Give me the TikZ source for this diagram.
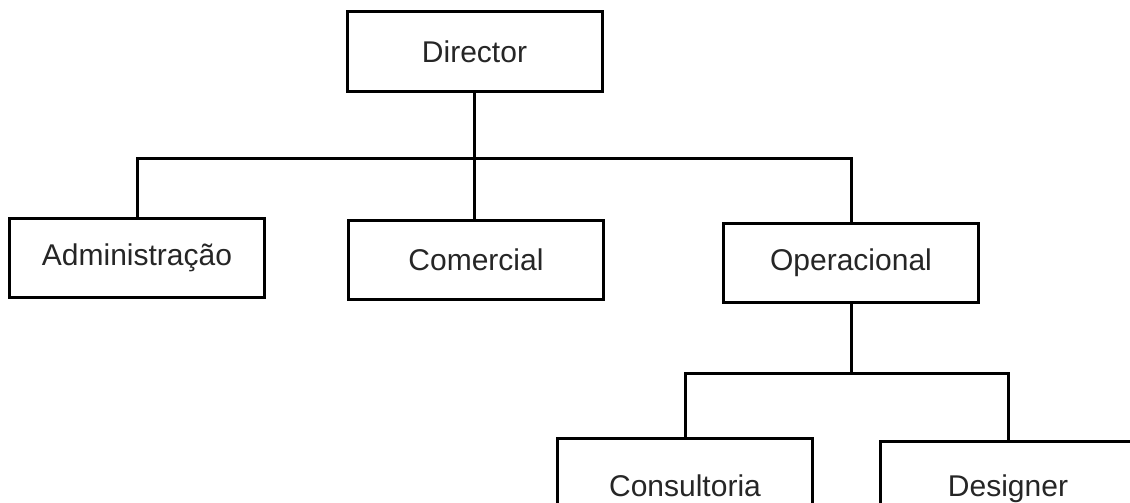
\documentclass[tikz,border=0pt]{standalone}
\usepackage{fontspec}
\setmainfont{Liberation Sans}
\begin{document}
\begin{tikzpicture}[x=1pt,y=-1pt,
  unit/.style={draw=black, line width=3pt, fill=white, inner sep=0pt,
    minimum width=255pt, minimum height=79pt, text=black!85,
    font=\fontsize{30}{35}\selectfont},
  lowunit/.style={unit, minimum height=96pt},
  link/.style={line width=3pt, line join=miter}]
  \useasboundingbox (0,0) rectangle (1130,503);
  \clip (0,0) rectangle (1130,503);

  % top level
  \node[unit] (dir) at (474.5,51.5) {Director};

  % departments
  \node[unit] (adm) at (137,258) {Administração};
  \node[unit] (com) at (476,260) {Comercial};
  \node[unit] (ope) at (851,262.5) {Operacional};

  % sub-units of Operacional
  \node[lowunit] (con) at (685,486) {Consultoria};
  \node[lowunit] (des) at (1008,489) {Designer};

  % connector buses
  \coordinate (busA) at (475,158);
  \coordinate (busB) at (851,373);

  \draw[link] (dir.south) -- (dir.south |- busA);
  \draw[link] (adm.north) |- (ope.north |- busA) -- (ope.north);
  \draw[link] (dir.south |- busA) -- (dir.south |- com.north);
  \draw[link] (ope.south) -- (busB);
  \draw[link] (con.north) |- (des.north |- busB) -- (des.north);
\end{tikzpicture}
\end{document}
